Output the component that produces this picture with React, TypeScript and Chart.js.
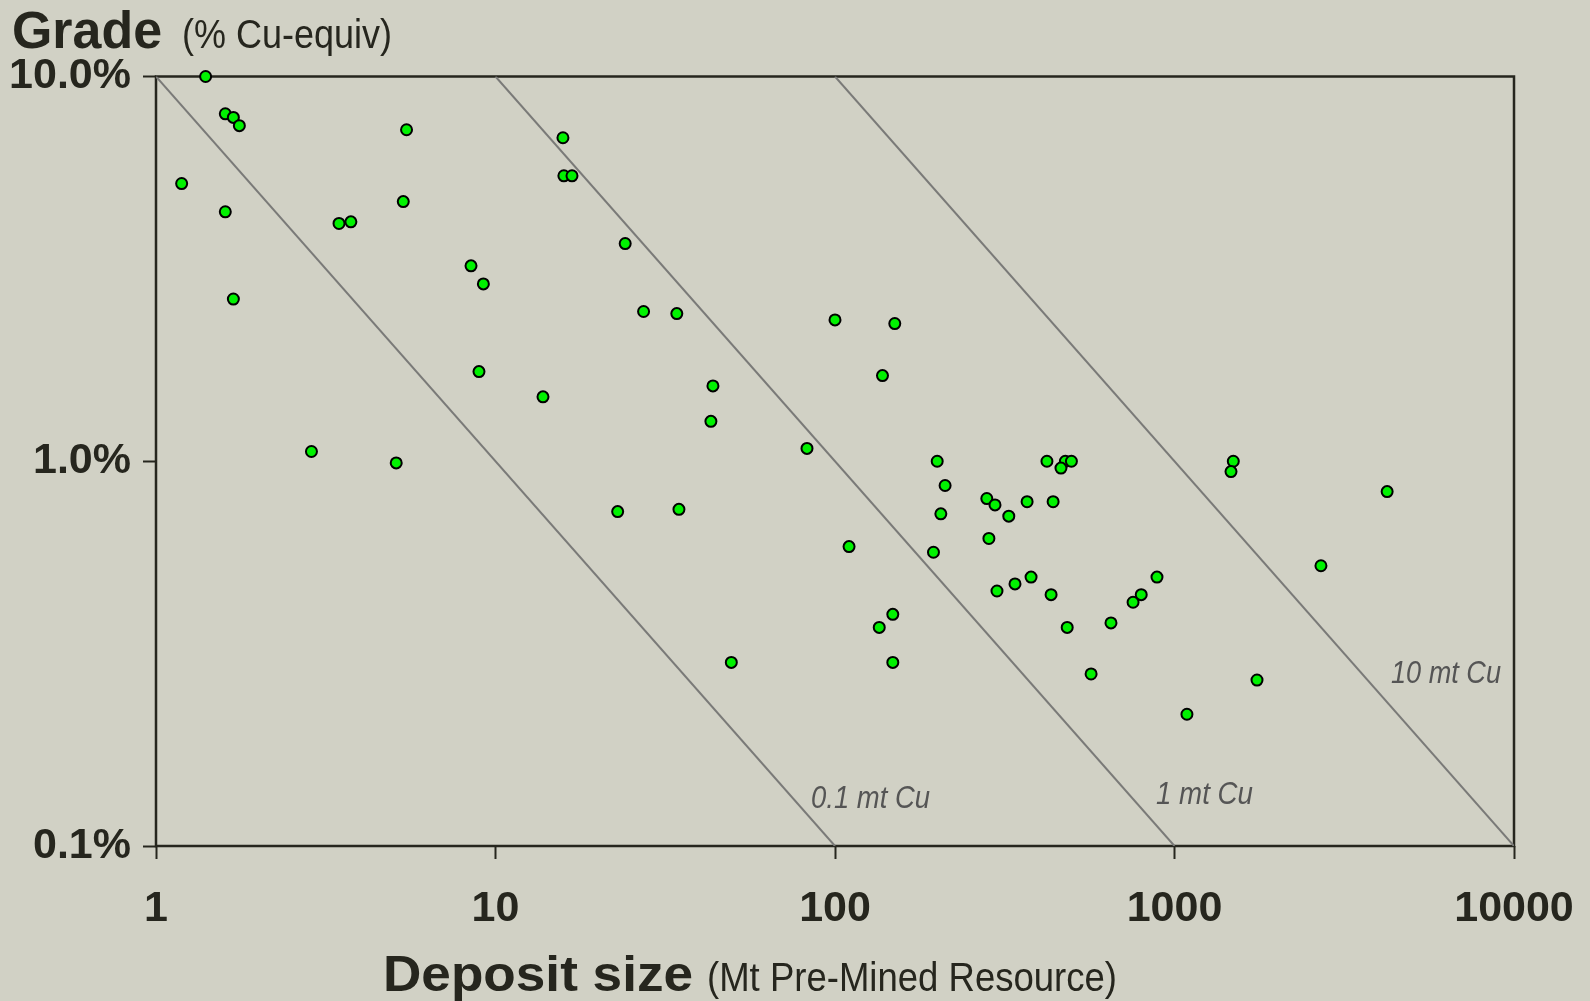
import React, { useEffect, useRef } from "react";
import { Chart, registerables } from "chart.js";

Chart.register(...registerables);

// ---- Data ----
const depositSizeMt = [
  1.4, 1.6, 1.69, 1.76, 5.47, 1.19, 1.6, 3.46, 3.75, 5.35,
  1.69, 8.47, 9.21, 8.94, 13.8, 15.8, 15.9, 16.8, 24.1, 27.3,
  34.2, 100, 150, 138, 43.7, 43.1, 82.7, 200, 211, 2.87,
  5.1, 22.9, 34.7, 49.5, 110, 148, 135, 148, 205, 195,
  280, 296, 325, 368, 439, 421, 477, 497, 463, 284,
  300, 339, 378, 433, 483, 568, 650, 755, 798, 888,
  1088, 1750, 1490, 1467, 2700, 4230,
];
const gradePctCuEq = [
  10.0, 8.0, 7.83, 7.45, 7.27, 5.27, 4.45, 4.15, 4.19, 4.73,
  2.64, 3.22, 2.89, 1.71, 1.47, 6.93, 5.52, 5.52, 3.68, 2.45,
  2.42, 2.33, 2.28, 1.67, 1.57, 1.27, 1.08, 1.0, 0.865, 1.06,
  0.99, 0.74, 0.75, 0.30, 0.60, 0.40, 0.37, 0.30, 0.73, 0.58,
  0.80, 0.77, 0.72, 0.785, 0.785, 1.0, 1.0, 1.0, 0.96, 0.63,
  0.46, 0.48, 0.50, 0.45, 0.37, 0.28, 0.38, 0.43, 0.45, 0.50,
  0.22, 0.27, 1.0, 0.94, 0.535, 0.834,
];

const xTickValues = [1, 10, 100, 1000, 10000];
const xTickLabels = ["1", "10", "100", "1000", "10000"];
const yTickValues = [0.1, 1, 10];
const yTickLabels = ["0.1%", "1.0%", "10.0%"];

// contained-copper iso-lines (million tonnes Cu)
const cuContentMt = [0.1, 1, 10];
const cuLineLabels = ["0.1 mt Cu", "1 mt Cu", "10 mt Cu"];

const yTitleBold = "Grade";
const yTitleRest = "(% Cu-equiv)";
const xTitleBold = "Deposit size";
const xTitleRest = "(Mt Pre-Mined Resource)";

// ---- Style / layout ----
const BG = "#d1d1c5";
const INK = "#26261e";
const LINE_GREY = "#7a7a78";
const LABEL_GREY = "#555555";
const X_MIN = 1, X_MAX = 10000, Y_MIN = 0.1, Y_MAX = 10;
const FONT = "'Liberation Sans', Arial, sans-serif";
// caption anchors (data space) and widths for iso-line labels
const cuLabelAnchor = [
  { x: 85, y: 0.1256, w: 119 },
  { x: 882, y: 0.1286, w: 97 },
  { x: 4343, y: 0.2652, w: 110 },
];

function drawText(
  ctx: CanvasRenderingContext2D,
  text: string,
  x: number,
  y: number,
  font: string,
  color: string,
  targetWidth?: number
) {
  ctx.save();
  ctx.font = font;
  ctx.fillStyle = color;
  ctx.textAlign = "left";
  ctx.textBaseline = "alphabetic";
  let sx = 1;
  if (targetWidth) sx = targetWidth / ctx.measureText(text).width;
  ctx.translate(x, y);
  ctx.scale(sx, 1);
  ctx.fillText(text, 0, 0);
  ctx.restore();
}

const overlayPlugin = {
  id: "overlay",
  beforeDatasetsDraw(chart: any) {
    const { ctx, chartArea: a } = chart;
    ctx.save();
    ctx.strokeStyle = INK;
    ctx.lineWidth = 2.5;
    ctx.strokeRect(a.left, a.top, a.right - a.left, a.bottom - a.top);
    ctx.restore();
  },
  afterDraw(chart: any) {
    const { ctx } = chart;
    const xs = chart.scales.x;
    const ys = chart.scales.y;
    cuLineLabels.forEach((t, i) => {
      const px = xs.getPixelForValue(cuLabelAnchor[i].x);
      const py = ys.getPixelForValue(cuLabelAnchor[i].y);
      drawText(ctx, t, px, py, `italic 31px ${FONT}`, LABEL_GREY, cuLabelAnchor[i].w);
    });
    drawText(ctx, yTitleBold, 12, 48, `bold 51px ${FONT}`, INK, 150);
    drawText(ctx, yTitleRest, 182, 48, `40px ${FONT}`, INK, 210);
    drawText(ctx, xTitleBold, 383, 991, `bold 50px ${FONT}`, INK, 310);
    drawText(ctx, xTitleRest, 707, 991, `40px ${FONT}`, INK, 410);
  },
};

export default function App() {
  const canvasRef = useRef<HTMLCanvasElement | null>(null);

  useEffect(() => {
    const canvas = canvasRef.current;
    if (!canvas) return;

    const points = depositSizeMt.map((x, i) => ({ x, y: gradePctCuEq[i] }));
    const isoLines = cuContentMt.map((cu, i) => ({
      label: cuLineLabels[i],
      data: [
        { x: (cu * 100) / Y_MAX, y: Y_MAX },
        { x: (cu * 100) / Y_MIN, y: Y_MIN },
      ],
      showLine: true,
      borderColor: LINE_GREY,
      borderWidth: 2,
      pointRadius: 0,
      pointHoverRadius: 0,
      fill: false,
      order: 1,
    }));

    const tickFont = { family: FONT, size: 43, weight: "bold" as const };

    const chart = new Chart(canvas, {
      type: "scatter",
      data: {
        datasets: [
          {
            label: "Deposits",
            data: points,
            backgroundColor: "#00f200",
            borderColor: "#000000",
            borderWidth: 2,
            pointRadius: 5.5,
            pointHoverRadius: 5.5,
            clip: false as any,
            order: 0,
          },
          ...isoLines,
        ] as any,
      },
      options: {
        responsive: false,
        animation: false,
        events: [],
        layout: { padding: { left: 0, top: 76.5, right: 76, bottom: 0 } },
        plugins: {
          legend: { display: false },
          tooltip: { enabled: false },
          title: { display: false },
        },
        scales: {
          x: {
            type: "logarithmic",
            min: X_MIN,
            max: X_MAX,
            border: { display: false },
            grid: {
              display: true,
              drawOnChartArea: false,
              drawTicks: true,
              tickLength: 13,
              tickColor: INK,
              tickWidth: 2,
            },
            afterBuildTicks: (scale: any) => {
              scale.ticks = xTickValues.map((v) => ({ value: v }));
            },
            afterFit: (scale: any) => {
              scale.height = 155;
              scale.paddingLeft = 0;
              scale.paddingRight = 0;
            },
            ticks: {
              color: INK,
              font: tickFont,
              padding: 24,
              maxRotation: 0,
              autoSkip: false,
              callback: (_v: any, i: number) => xTickLabels[i],
            },
          },
          y: {
            type: "logarithmic",
            min: Y_MIN,
            max: Y_MAX,
            border: { display: false },
            grid: {
              display: true,
              drawOnChartArea: false,
              drawTicks: true,
              tickLength: 13,
              tickColor: INK,
              tickWidth: 2,
            },
            afterBuildTicks: (scale: any) => {
              scale.ticks = yTickValues.map((v) => ({ value: v }));
            },
            afterFit: (scale: any) => {
              scale.width = 156;
              scale.paddingTop = 0;
              scale.paddingBottom = 0;
            },
            ticks: {
              color: INK,
              font: tickFont,
              padding: 12,
              autoSkip: false,
              callback: (_v: any, i: number) => yTickLabels[i],
            },
          },
        },
      },
      plugins: [overlayPlugin],
    });

    return () => chart.destroy();
  }, []);

  return (
    <div
      style={{
        position: "fixed",
        left: 0,
        top: 0,
        width: 1590,
        height: 1001,
        background: BG,
        overflow: "hidden",
      }}
    >
      <canvas
        ref={canvasRef}
        width={1590}
        height={1001}
        style={{ display: "block", width: 1590, height: 1001 }}
      />
    </div>
  );
}
